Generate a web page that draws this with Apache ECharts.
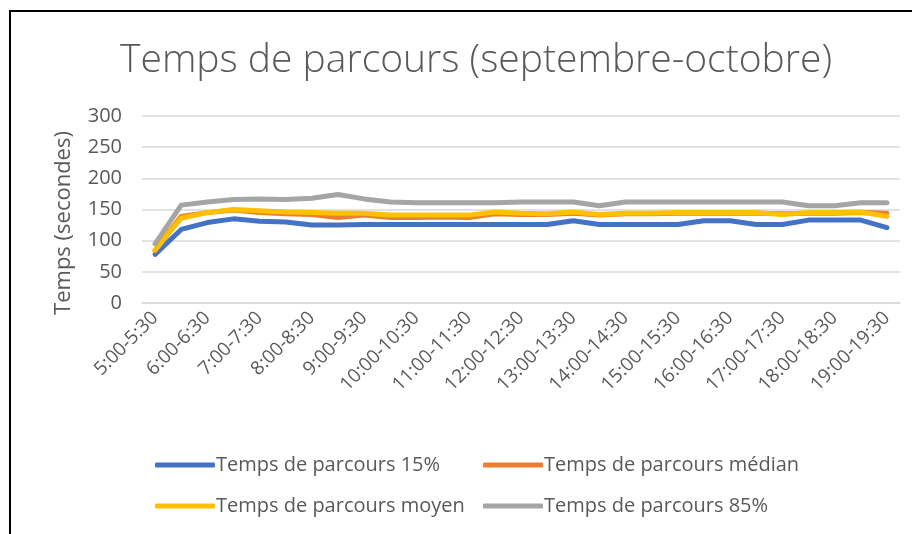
<!DOCTYPE html>
<html>
<head>
<meta charset="utf-8">
<script src="https://cdn.jsdelivr.net/npm/echarts@6/dist/echarts.min.js"></script>
<style>
html,body{margin:0;padding:0;background:#fff;}
#chart{width:912px;height:534px;}
</style>
</head>
<body>
<div id="chart"></div>
<script>
const categories = ['5:00-5:30','5:30-6:00','6:00-6:30','6:30-7:00','7:00-7:30','7:30-8:00','8:00-8:30','8:30-9:00','9:00-9:30','9:30-10:00','10:00-10:30','10:30-11:00','11:00-11:30','11:30-12:00','12:00-12:30','12:30-13:00','13:00-13:30','13:30-14:00','14:00-14:30','14:30-15:00','15:00-15:30','15:30-16:00','16:00-16:30','16:30-17:00','17:00-17:30','17:30-18:00','18:00-18:30','18:30-19:00','19:00-19:30'];
const p15 = [78,118,129,135,131,130,125,125,126,126,126,126,126,126,126,126,132,126,126,126,126,132,132,126,126,133,133,133,121];
const median = [84,139,145,149,145,143,142,137,141,137,137,138,137,143,142,142,144,141,143,143,144,144,144,144,143,144,144,145,144];
const moyen = [85,136,145,150,148,146,145,144,144,141,141,141,141,146,144,143,146,142,144,144,145,145,145,145,142,145,145,146,139];
const p85 = [95,157,162,166,167,166,168,174,167,162,161,161,161,161,162,162,162,156,162,162,162,162,162,162,162,156,156,161,161];
const seriesNames = ['Temps de parcours 15%','Temps de parcours médian','Temps de parcours moyen','Temps de parcours 85%'];
const colors = ['#4472C4','#ED7D31','#FFC000','#A5A5A5'];
const yTicks = {min:0, max:300, interval:50};
const yName = 'Temps (secondes)';

const font = 'Open Sans';
const txt = '#595959';
const chart = echarts.init(document.getElementById('chart'));
const dataSets = [p15, median, moyen, p85];
chart.setOption({
  animation:false,
  backgroundColor:'#fff',
  color: colors,
  graphic:[
    {type:'rect', shape:{x:10,y:11,width:1000,height:1000}, style:{fill:'none', stroke:'#000', lineWidth:2}, silent:true},
    {type:'text', x:64, y:223, rotation:Math.PI/2, silent:true,
     style:{text:yName, fontFamily:font, fontSize:22, fill:txt, align:'center', verticalAlign:'middle'}}
  ],
  title:{text:'Temps de parcours (septembre-octobre)', left:471, top:36, textAlign:'center',
    textStyle:{fontFamily:font, fontSize:39, fontWeight:300, color:txt}},
  legend:[
    {orient:'vertical', left:150, top:450, itemGap:21, itemWidth:60, itemHeight:5, icon:'roundRect',
     data:[seriesNames[0], seriesNames[2]], textStyle:{fontFamily:font, fontSize:20, color:txt, padding:[0,0,0,-4]}},
    {orient:'vertical', left:478, top:450, itemGap:21, itemWidth:60, itemHeight:5, icon:'roundRect',
     data:[seriesNames[1], seriesNames[3]], textStyle:{fontFamily:font, fontSize:20, color:txt, padding:[0,0,0,-4]}}
  ],
  grid:{left:142, right:12, top:116, bottom:231, containLabel:false},
  xAxis:{type:'category', data:categories, boundaryGap:true,
    axisLine:{show:true, lineStyle:{color:'#d9d9d9', width:1.5}}, axisTick:{show:false},
    axisLabel:{interval:1, rotate:45, fontFamily:font, fontSize:19, color:txt, margin:12}},
  yAxis:{type:'value', min:yTicks.min, max:yTicks.max, interval:yTicks.interval,
    axisLine:{show:false}, axisTick:{show:false},
    axisLabel:{fontFamily:font, fontSize:20, color:txt, margin:20},
    splitLine:{lineStyle:{color:'#d9d9d9', width:1.5}}},
  series: dataSets.map((d,i)=>({name:seriesNames[i], type:'line', data:d, symbol:'none',
    lineStyle:{width:5, color:colors[i], cap:'round', join:'round'}, itemStyle:{color:colors[i]}}))
});
</script>
</body>
</html>
